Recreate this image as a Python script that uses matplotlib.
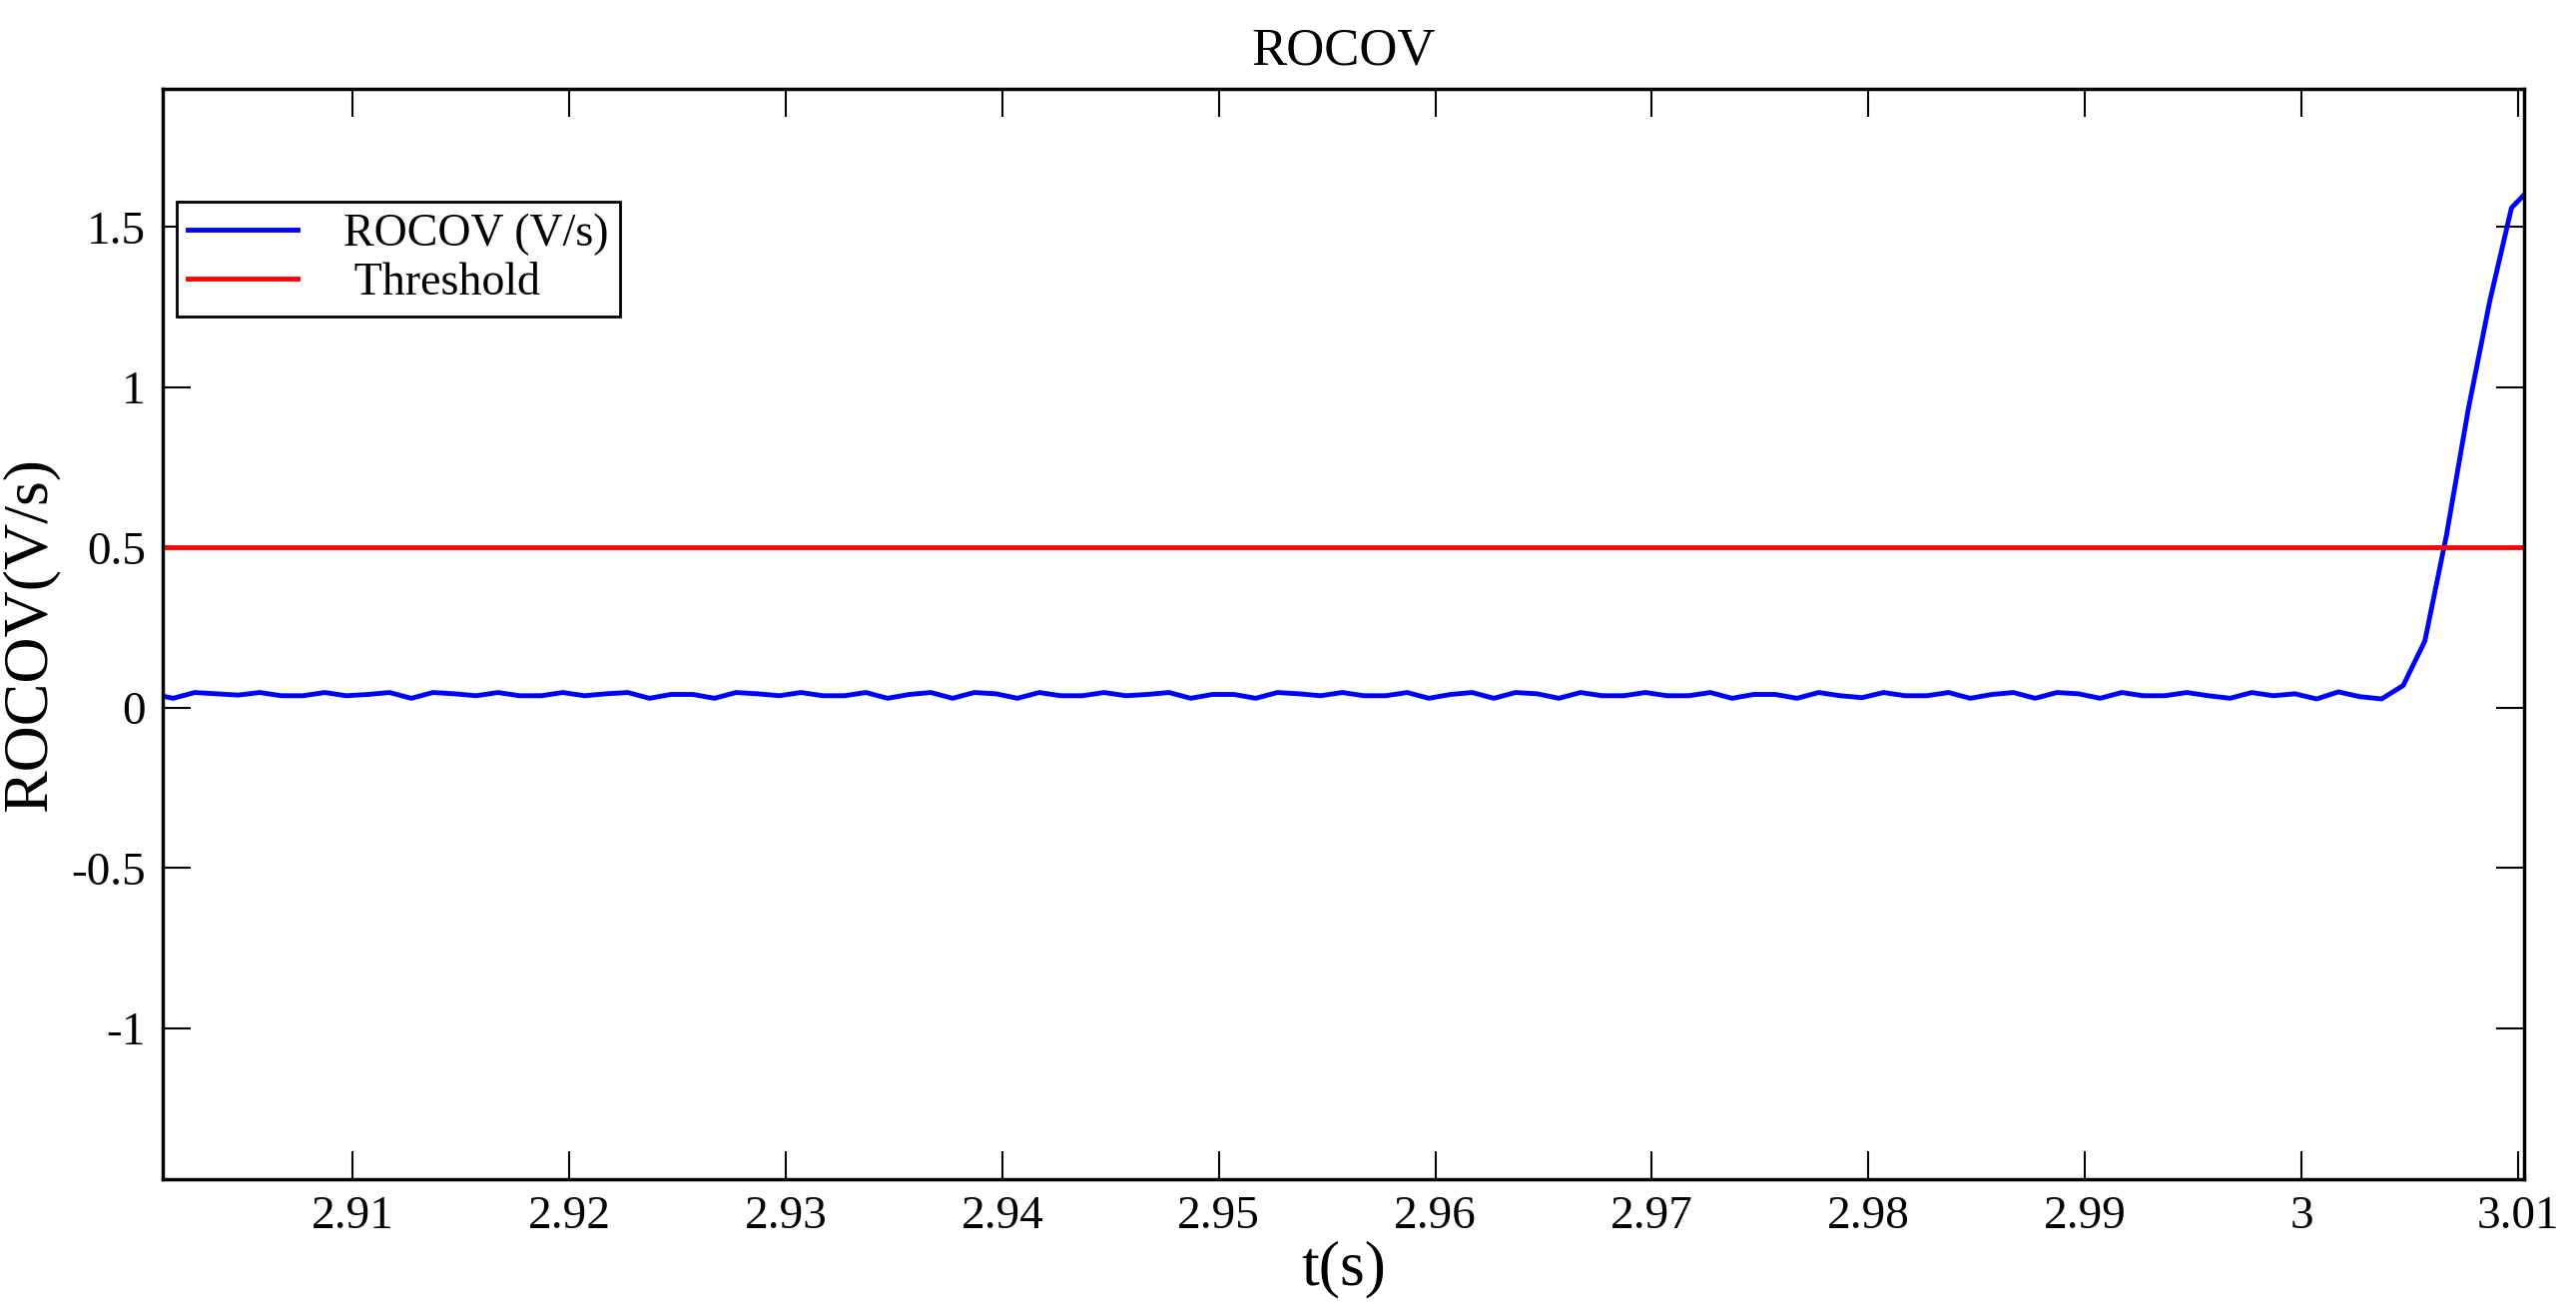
import numpy as np
import matplotlib
matplotlib.use("Agg")
import matplotlib.pyplot as plt

t_start = 2.9007
t_step = 0.001
rocov = [0.044, 0.030, 0.048, 0.044, 0.040, 0.048, 0.038, 0.038, 0.048, 0.038, 0.042, 0.048,
         0.030, 0.048, 0.044, 0.038, 0.048, 0.038, 0.038, 0.048, 0.038, 0.044, 0.048, 0.030,
         0.042, 0.042, 0.030, 0.048, 0.044, 0.038, 0.048, 0.038, 0.038, 0.048, 0.030, 0.042,
         0.048, 0.030, 0.048, 0.044, 0.030, 0.048, 0.038, 0.038, 0.048, 0.038, 0.042, 0.048,
         0.030, 0.042, 0.042, 0.030, 0.048, 0.044, 0.038, 0.048, 0.038, 0.038, 0.048, 0.030,
         0.042, 0.048, 0.030, 0.048, 0.044, 0.030, 0.048, 0.038, 0.038, 0.048, 0.038, 0.038,
         0.048, 0.030, 0.042, 0.042, 0.030, 0.048, 0.038, 0.032, 0.048, 0.038, 0.038, 0.048,
         0.030, 0.042, 0.048, 0.030, 0.048, 0.044, 0.030, 0.048, 0.038, 0.038, 0.048, 0.038,
         0.030, 0.048, 0.038, 0.044, 0.028, 0.050, 0.035, 0.028, 0.070, 0.209, 0.540, 0.930,
         1.270, 1.560, 1.630]
threshold = 0.5
t = t_start + t_step * np.arange(len(rocov))

plt.rcParams['font.family'] = ['Liberation Serif', 'DejaVu Serif']
fig = plt.figure(figsize=(25.8, 13.15), dpi=100)
ax = fig.add_axes([0.063, 0.102, 0.917, 0.83])
ax.plot(t, rocov, color='#0000ff', lw=3.5, label='ROCOV (V/s)')
ax.axhline(threshold, color='#ff0000', lw=3.5, label=' Threshold')
ax.set_xlim(2.9012, 3.0103)
ax.set_ylim(-1.47, 1.93)
ax.set_xticks([2.91 + 0.01 * i for i in range(11)])
ax.set_xticklabels(['2.91', '2.92', '2.93', '2.94', '2.95', '2.96', '2.97', '2.98', '2.99', '3', '3.01'])
ax.set_yticks([-1, -0.5, 0, 0.5, 1, 1.5])
ax.set_yticklabels(['-1', '-0.5', '0', '0.5', '1', '1.5'])
ax.tick_params(direction='in', length=20, width=1.5, labelsize=34, top=True, right=True, pad=12)
for s in ax.spines.values():
    s.set_linewidth(2.5)
ax.set_title('ROCOV', fontsize=38, pad=18)
ax.set_xlabel('t(s)', fontsize=46, labelpad=2)
ax.set_ylabel('ROCOV(V/s)', fontsize=46, labelpad=8)
leg = ax.legend(loc='upper left', bbox_to_anchor=(0.006, 0.897), borderaxespad=0,
                fontsize=33, fancybox=False, edgecolor='black', framealpha=1,
                handlelength=2.4, handletextpad=1.0, borderpad=0.25, labelspacing=0.15)
leg.get_frame().set_linewidth(2)
fig.savefig('out.png', dpi=100)
